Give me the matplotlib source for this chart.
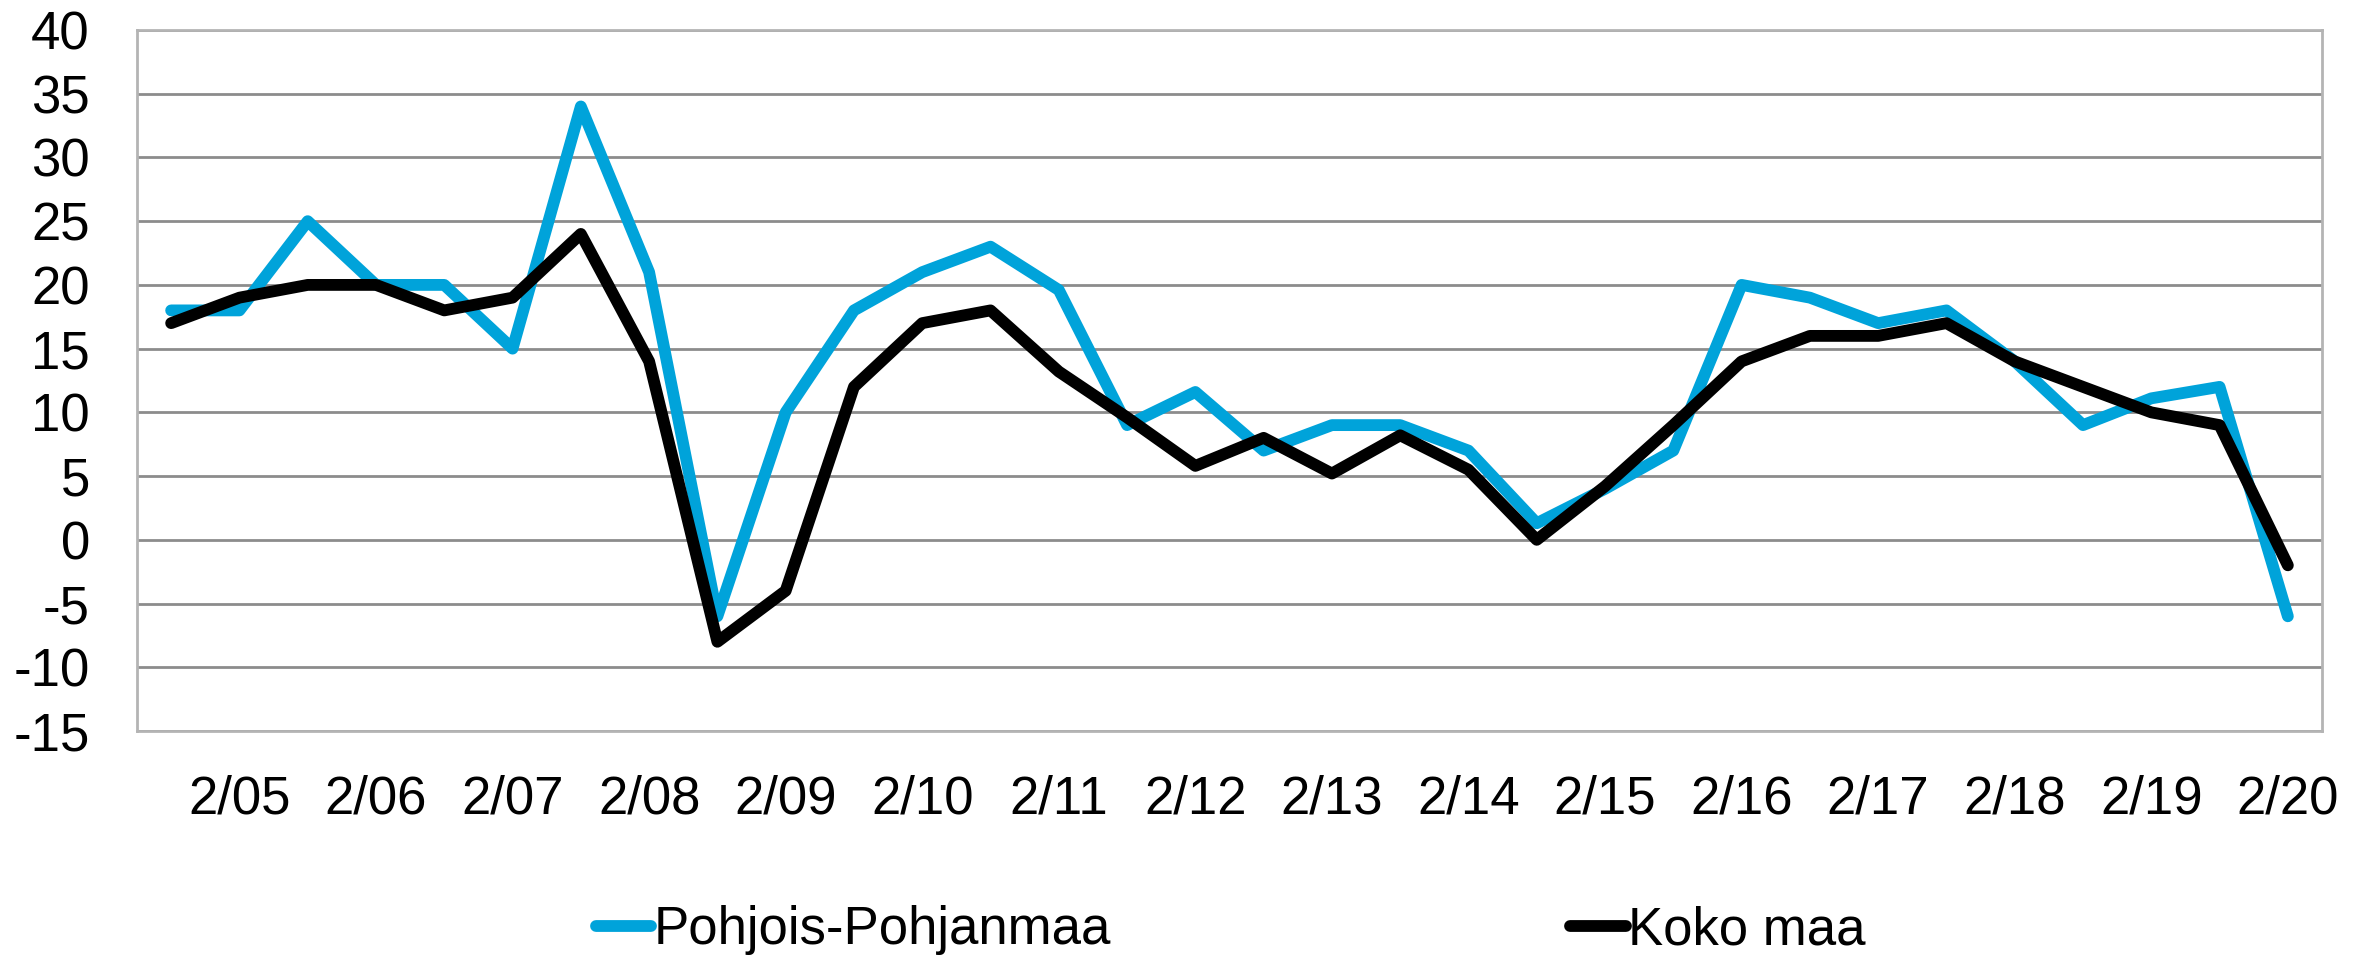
import matplotlib
matplotlib.use('Agg')
import matplotlib.pyplot as plt

plt.rcParams['font.family'] = ['Liberation Sans', 'DejaVu Sans']
plt.rcParams['axes.unicode_minus'] = False

# half-year periods 8/04 ... 2/20
periods = []
for yr in range(4, 21):
    if yr > 4:
        periods.append('2/%02d' % yr)
    if yr < 20:
        periods.append('8/%02d' % yr)

pohjois = [18, 18, 25, 20, 20, 15, 34, 21, -6, 10,
           18, 21, 23, 19.6, 9, 11.6, 7, 9, 9, 7,
           1.3, 4, 7, 20, 19, 17, 18, 14, 9, 11.1,
           12, -6]
koko_maa = [17, 19, 20, 20, 18, 19, 24, 14, -8, -4,
            12, 17, 18, 13.2, 9.6, 5.8, 8, 5.2, 8.2, 5.5,
            0, 4.2, 9, 14, 16, 16, 17, 14, 12, 10,
            9, -2]

blue = '#00a3da'
grid_c = '#8c8c8c'

fig = plt.figure(figsize=(23.69, 9.6), dpi=100)
ax = fig.add_axes([137 / 2369, 1 - 731 / 960, (2322 - 137) / 2369, (731 - 30) / 960])

x = list(range(len(periods)))
ax.plot(x, pohjois, color=blue, lw=8.5, solid_joinstyle='round',
        solid_capstyle='round', label='Pohjois-Pohjanmaa', zorder=3)
ax.plot(x, koko_maa, color='black', lw=8.5, solid_joinstyle='round',
        solid_capstyle='round', label='Koko maa', zorder=4)

ax.set_xlim(-0.5, len(periods) - 0.5)
ax.set_ylim(-15, 40)
ax.set_yticks(range(-15, 41, 5))
ax.set_xticks(x[1::2])
ax.set_xticklabels(periods[1::2])
ax.yaxis.grid(True, color=grid_c, lw=2)
ax.set_axisbelow(True)
for s in ax.spines.values():
    s.set_color('#b4b4b4')
    s.set_linewidth(2)
ax.tick_params(axis='both', length=0, labelsize=38)
ax.tick_params(axis='y', pad=34)
ax.tick_params(axis='x', pad=31)

fig.legend(loc='center', bbox_to_anchor=(0.5195, 0.031), ncol=2, frameon=False,
           fontsize=38, handlelength=1.05, handletextpad=0.05, columnspacing=8.7)

fig.savefig('out.png', dpi=100)
